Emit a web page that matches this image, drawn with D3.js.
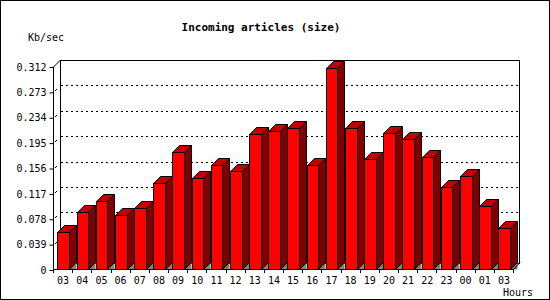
<!DOCTYPE html>
<html>
<head>
<meta charset="utf-8">
<script src="https://cdn.jsdelivr.net/npm/d3@7"></script>
<style>
  body { margin: 0; background: #fff; }
  text { font-family: "DejaVu Sans Mono", monospace; font-size: 10px; fill: #000; }
</style>
</head>
<body>
<script>
// hours on the x axis (last one really is 03 in the original)
var hours = ["03", "04", "05", "06", "07", "08", "09", "10", "11", "12", "13", "14",
    "15", "16", "17", "18", "19", "20", "21", "22", "23", "00", "01", "03"];
// Kb/sec per hour
var sizes = [0.058, 0.089, 0.106, 0.084, 0.096, 0.133, 0.182, 0.141, 0.162, 0.152, 0.209, 0.213,
    0.219, 0.161, 0.311, 0.218, 0.170, 0.211, 0.201, 0.173, 0.128, 0.144, 0.099, 0.064];
var yTicks = [0, 0.039, 0.078, 0.117, 0.156, 0.195, 0.234, 0.273, 0.312];
var yTickLabels = ["0", "0.039", "0.078", "0.117", "0.156", "0.195", "0.234", "0.273", "0.312"];

const w = 550,
    h = 300;
const depth = 7;
const svg = d3.select("body")
    .append("svg")
    .attr("width", w)
    .attr("height", h);

// outer frame
svg.append("rect")
    .attr("x", 0.5).attr("y", 0.5)
    .attr("width", w - 1).attr("height", h - 1)
    .attr("fill", "#fff").attr("stroke", "#000");

var xScale = d3.scaleBand()
    .domain(d3.range(hours.length))
    .range([54, 514])
    .paddingInner(0).paddingOuter(0);

var yScale = d3.scaleLinear()
    .domain([0, 0.312])
    .range([270, 67]);

var x0 = xScale.range()[0], x1 = xScale.range()[1];
var yBot = yScale(0), yTop = yScale(0.312);

// back wall
svg.append("rect")
    .attr("x", x0 + depth - 0.5).attr("y", yTop - depth + 0.5)
    .attr("width", x1 - x0 - 1).attr("height", yBot - yTop)
    .attr("fill", "none").attr("stroke", "#000");

// dotted grid lines on the back wall
svg.append("g").selectAll("line")
    .data(yTicks.slice(1, -1))
    .enter()
    .append("line")
    .attr("x1", x0 + depth).attr("x2", x1 + depth - 1)
    .attr("y1", (d) => Math.round(yScale(d)) - depth + 0.5)
    .attr("y2", (d) => Math.round(yScale(d)) - depth + 0.5)
    .attr("stroke", "#000")
    .attr("stroke-dasharray", "2,3");

// bars
var bw = 11.6, bOff = 3.4;
var bars = svg.append("g").selectAll("g")
    .data(sizes)
    .enter()
    .append("g");

// floor patch under side face
bars.append("path")
    .attr("d", function (d, i) {
        var xr = Math.round(xScale(i) + bOff + bw) + 0.5;
        return "M" + xr + "," + (yBot - 0.5) + "L" + (xr + depth) + "," + (yBot - depth - 0.5) +
            "L" + (xr + depth) + "," + (yBot - 0.5) + "Z";
    })
    .attr("fill", "#808080");

// side face
bars.append("path")
    .attr("d", function (d, i) {
        var xr = Math.round(xScale(i) + bOff + bw) + 0.5;
        var yt = Math.round(yScale(d)) + 0.5;
        return "M" + xr + "," + yt + "L" + (xr + depth) + "," + (yt - depth) +
            "L" + (xr + depth) + "," + (yBot - depth - 0.5) + "L" + xr + "," + (yBot - 0.5) + "Z";
    })
    .attr("fill", "#800000").attr("stroke", "#000");

// top face
bars.append("path")
    .attr("d", function (d, i) {
        var xl = Math.round(xScale(i) + bOff) + 0.5;
        var xr = Math.round(xScale(i) + bOff + bw) + 0.5;
        var yt = Math.round(yScale(d)) + 0.5;
        return "M" + xl + "," + yt + "L" + (xl + depth) + "," + (yt - depth) +
            "L" + (xr + depth) + "," + (yt - depth) + "L" + xr + "," + yt + "Z";
    })
    .attr("fill", "#c00000").attr("stroke", "#000");

// front face
bars.append("rect")
    .attr("x", (d, i) => Math.round(xScale(i) + bOff) + 0.5)
    .attr("y", (d) => Math.round(yScale(d)) + 0.5)
    .attr("width", (d, i) => Math.round(xScale(i) + bOff + bw) - Math.round(xScale(i) + bOff))
    .attr("height", (d) => yBot - 1 - Math.round(yScale(d)))
    .attr("fill", "#ff0000").attr("stroke", "#000");

// y axis
var yAxis = d3.axisLeft(yScale)
    .tickValues(yTicks)
    .tickFormat((d, i) => yTickLabels[i])
    .tickSize(4)
    .tickPadding(3);
var gy = svg.append("g")
    .attr("transform", "translate(" + (x0 - 0.5) + ",0)")
    .call(yAxis);
gy.select(".domain").remove();
gy.selectAll("text").style("font-family", "DejaVu Sans Mono").style("font-size", "10px");
svg.append("line")
    .attr("x1", x0 - 0.5).attr("x2", x0 - 0.5)
    .attr("y1", yTop).attr("y2", yBot)
    .attr("stroke", "#000");
// short slanted marks at each tick
svg.append("g").selectAll("line")
    .data(yTicks.slice(1, -1))
    .enter()
    .append("line")
    .attr("x1", x0 + 1).attr("x2", x0 + 3)
    .attr("y1", (d) => Math.round(yScale(d)) - 1)
    .attr("y2", (d) => Math.round(yScale(d)) - 3)
    .attr("stroke", "#000");
svg.append("line")
    .attr("x1", x0 - 0.5).attr("y1", yTop)
    .attr("x2", x0 + depth - 0.5).attr("y2", yTop - depth)
    .attr("stroke", "#000");

// x axis
var xAxis = d3.axisBottom(xScale)
    .tickFormat((d) => hours[d])
    .tickSize(0)
    .tickPadding(7);
var gx = svg.append("g")
    .attr("transform", "translate(0," + (yBot - 0.5) + ")")
    .call(xAxis);
gx.select(".domain").remove();
gx.selectAll("text").attr("dx", -0.5).style("font-family", "DejaVu Sans Mono").style("font-size", "10px");
svg.append("line")
    .attr("x1", x0 - 1).attr("x2", x1)
    .attr("y1", yBot - 0.5).attr("y2", yBot - 0.5)
    .attr("stroke", "#000");
svg.append("g").selectAll("line")
    .data(d3.range(hours.length + 1))
    .enter()
    .append("line")
    .attr("x1", (d) => Math.round(x0 + d * xScale.step()) - 0.5)
    .attr("x2", (d) => Math.round(x0 + d * xScale.step()) - 0.5)
    .attr("y1", yBot).attr("y2", yBot + 3)
    .attr("stroke", "#000");
svg.append("line")
    .attr("x1", x1 - 0.5).attr("y1", yBot - 0.5)
    .attr("x2", x1 + depth - 1).attr("y2", yBot - depth - 0.5)
    .attr("stroke", "#000");

// titles
svg.append("text")
    .attr("x", 261).attr("y", 31)
    .attr("text-anchor", "middle")
    .style("font-weight", "bold").style("font-size", "11px")
    .text("Incoming articles (size)");
svg.append("text")
    .attr("x", 28).attr("y", 41)
    .text("Kb/sec");
svg.append("text")
    .attr("x", 533).attr("y", 296)
    .attr("text-anchor", "end")
    .text("Hours");
</script>
</body>
</html>
